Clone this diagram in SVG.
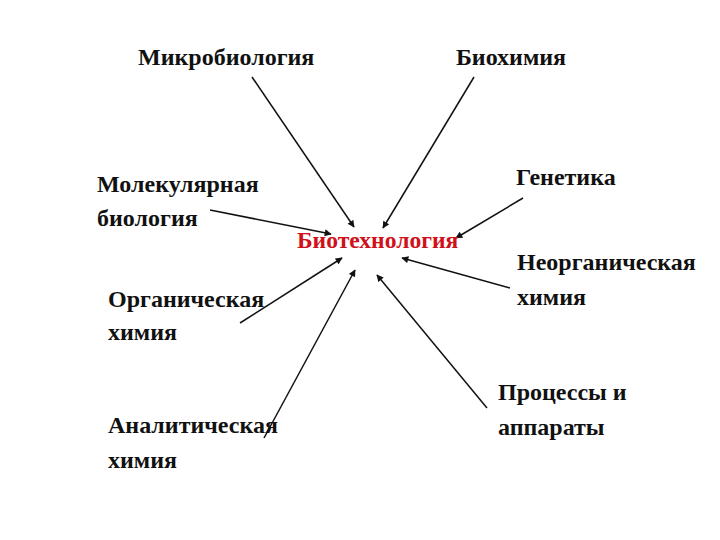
<svg xmlns="http://www.w3.org/2000/svg" width="720" height="540" viewBox="0 0 720 540">
<defs>
<style>
.t{font-family:"Liberation Serif","Times New Roman",serif;font-weight:bold;font-size:24px;fill:#111}
.c{font-family:"Liberation Serif","Times New Roman",serif;font-weight:bold;font-size:23.6px;fill:#d0101a}
.e{stroke:#111;stroke-width:1.5;fill:none;marker-end:url(#ah)}
</style>
<marker id="ah" viewBox="0 0 10 10" refX="9" refY="5" markerWidth="8" markerHeight="7" markerUnits="userSpaceOnUse" orient="auto">
<path d="M0,0 L10,5 L0,10 z" fill="#111"/>
</marker>
</defs>
<rect width="720" height="540" fill="#fff"/>
<g id="connectors">
<line class="e" x1="252" y1="77" x2="354" y2="227"/>
<line class="e" x1="474" y1="77" x2="383" y2="228"/>
<line class="e" x1="523" y1="198" x2="456" y2="238"/>
<line class="e" x1="210" y1="210" x2="331" y2="234"/>
<line class="e" x1="240" y1="323" x2="342" y2="258"/>
<line class="e" x1="264" y1="438" x2="355" y2="270"/>
<line class="e" x1="510" y1="288" x2="402" y2="258"/>
<line class="e" x1="487" y1="408" x2="377" y2="275"/>
</g>
<g id="center"><text class="c" x="297" y="248">Биотехнология</text></g>
<g id="micro"><text class="t" x="138" y="65">Микробиология</text></g>
<g id="biochem"><text class="t" x="456" y="65">Биохимия</text></g>
<g id="genetics"><text class="t" x="516" y="185">Генетика</text></g>
<g id="molbio"><text class="t" x="97" y="192">Молекулярная</text><text class="t" x="97" y="226">биология</text></g>
<g id="inorg"><text class="t" x="517" y="270">Неорганическая</text><text class="t" x="517" y="305">химия</text></g>
<g id="org"><text class="t" x="108" y="307">Органическая</text><text class="t" x="108" y="340">химия</text></g>
<g id="anal"><text class="t" x="108" y="433">Аналитическая</text><text class="t" x="108" y="468">химия</text></g>
<g id="proc"><text class="t" x="498" y="400">Процессы и</text><text class="t" x="498" y="435">аппараты</text></g>
</svg>
